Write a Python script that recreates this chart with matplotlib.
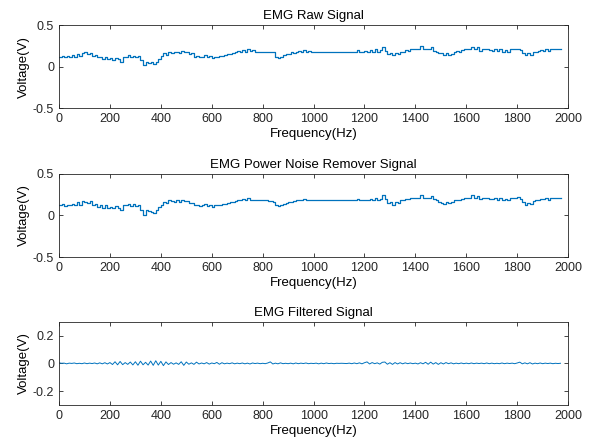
import matplotlib
matplotlib.use("Agg")
import matplotlib.pyplot as plt
import numpy as np

# frequency axis, one sample every 10 Hz
freq = np.arange(0, 1980, 10)

raw = [
    0.12, 0.13, 0.11, 0.13, 0.12, 0.14, 0.12, 0.15, 0.13, 0.16,
    0.17, 0.15, 0.16, 0.13, 0.14, 0.11, 0.12, 0.09, 0.11, 0.09,
    0.10, 0.08, 0.10, 0.09, 0.05, 0.12, 0.11, 0.14, 0.12, 0.13,
    0.11, 0.13, 0.08, 0.02, 0.06, 0.04, 0.05, 0.03, 0.06, 0.09,
    0.13, 0.16, 0.14, 0.18, 0.16, 0.17, 0.18, 0.16, 0.19, 0.17,
    0.18, 0.15, 0.16, 0.12, 0.13, 0.11, 0.12, 0.14, 0.11, 0.13,
    0.10, 0.12, 0.12, 0.13, 0.13, 0.14, 0.15, 0.15, 0.16, 0.17,
    0.19, 0.18, 0.20, 0.18, 0.21, 0.19, 0.20, 0.18, 0.18, 0.18,
    0.18, 0.18, 0.18, 0.17, 0.17, 0.11, 0.10, 0.12, 0.14, 0.15,
    0.15, 0.17, 0.16, 0.18, 0.19, 0.17, 0.20, 0.18, 0.19, 0.17,
    0.18, 0.17, 0.18, 0.18, 0.18, 0.18, 0.18, 0.18, 0.18, 0.18,
    0.18, 0.18, 0.18, 0.18, 0.18, 0.18, 0.18, 0.20, 0.18, 0.18,
    0.19, 0.17, 0.20, 0.18, 0.21, 0.18, 0.20, 0.24, 0.19, 0.15,
    0.16, 0.14, 0.16, 0.15, 0.18, 0.17, 0.20, 0.19, 0.21, 0.21,
    0.21, 0.21, 0.25, 0.21, 0.21, 0.21, 0.23, 0.19, 0.18, 0.16,
    0.16, 0.14, 0.16, 0.14, 0.15, 0.17, 0.19, 0.18, 0.20, 0.21,
    0.21, 0.21, 0.24, 0.21, 0.23, 0.19, 0.21, 0.21, 0.21, 0.20,
    0.19, 0.21, 0.19, 0.21, 0.18, 0.20, 0.18, 0.21, 0.21, 0.21,
    0.21, 0.20, 0.16, 0.14, 0.16, 0.14, 0.17, 0.17, 0.19, 0.20,
    0.19, 0.21, 0.19, 0.21, 0.21, 0.21, 0.21, 0.21,
]

power_removed = [
    0.12, 0.14, 0.11, 0.13, 0.13, 0.14, 0.13, 0.16, 0.13, 0.17,
    0.16, 0.15, 0.17, 0.13, 0.14, 0.10, 0.12, 0.09, 0.12, 0.09,
    0.10, 0.09, 0.11, 0.09, 0.06, 0.12, 0.12, 0.14, 0.11, 0.14,
    0.11, 0.12, 0.07, 0.01, 0.06, 0.05, 0.04, 0.03, 0.07, 0.10,
    0.12, 0.16, 0.15, 0.18, 0.17, 0.16, 0.19, 0.16, 0.18, 0.17,
    0.17, 0.15, 0.15, 0.12, 0.12, 0.11, 0.13, 0.14, 0.11, 0.12,
    0.10, 0.12, 0.13, 0.13, 0.14, 0.14, 0.15, 0.16, 0.16, 0.17,
    0.18, 0.18, 0.20, 0.19, 0.21, 0.19, 0.19, 0.18, 0.18, 0.18,
    0.18, 0.18, 0.17, 0.17, 0.16, 0.12, 0.11, 0.12, 0.14, 0.15,
    0.16, 0.16, 0.17, 0.18, 0.19, 0.18, 0.20, 0.18, 0.19, 0.18,
    0.18, 0.18, 0.18, 0.18, 0.18, 0.18, 0.18, 0.18, 0.18, 0.18,
    0.18, 0.18, 0.18, 0.18, 0.18, 0.18, 0.18, 0.20, 0.18, 0.18,
    0.19, 0.18, 0.20, 0.18, 0.21, 0.19, 0.20, 0.24, 0.20, 0.15,
    0.16, 0.13, 0.16, 0.15, 0.18, 0.18, 0.20, 0.20, 0.21, 0.21,
    0.21, 0.21, 0.25, 0.21, 0.21, 0.21, 0.23, 0.20, 0.18, 0.16,
    0.15, 0.14, 0.16, 0.15, 0.16, 0.18, 0.19, 0.19, 0.20, 0.21,
    0.21, 0.21, 0.24, 0.21, 0.23, 0.20, 0.21, 0.21, 0.21, 0.20,
    0.20, 0.21, 0.19, 0.21, 0.19, 0.20, 0.19, 0.21, 0.21, 0.21,
    0.22, 0.20, 0.16, 0.13, 0.15, 0.14, 0.17, 0.18, 0.19, 0.20,
    0.20, 0.21, 0.19, 0.21, 0.21, 0.21, 0.21, 0.21,
]

filtered = [
    0.004, 0.001, 0.002, -0.003, 0.002, 0.000, 0.003, -0.002, 0.001, -0.002,
    0.003, -0.002, 0.002, -0.001, 0.003, -0.003, 0.004, -0.003, 0.005, -0.004,
    0.006, -0.008, 0.012, -0.010, 0.014, -0.009, 0.006, -0.007, 0.010, -0.011,
    0.012, -0.013, 0.016, -0.010, 0.008, -0.012, 0.017, -0.014, 0.019, -0.012,
    0.015, -0.016, 0.011, -0.008, 0.006, -0.006, 0.004, -0.007, 0.012, -0.014,
    0.010, -0.006, 0.004, -0.007, 0.009, -0.004, 0.003, -0.003, 0.006, -0.005,
    0.003, -0.002, 0.007, -0.006, 0.005, -0.003, 0.002, -0.002, 0.004, -0.003,
    0.002, -0.002, 0.003, -0.003, 0.002, -0.004, 0.003, -0.001, 0.002, -0.002,
    0.001, -0.002, 0.003, 0.011, -0.004, 0.002, -0.003, 0.004, -0.002, 0.001,
    -0.002, 0.002, -0.003, 0.003, -0.002, 0.002, -0.001, 0.003, -0.002, 0.001,
    -0.001, 0.002, -0.003, 0.002, -0.002, 0.003, -0.001, 0.001, -0.002, 0.001,
    0.000, 0.001, 0.000, -0.001, 0.002, -0.002, 0.003, -0.002, 0.004, -0.003,
    0.005, 0.011, -0.004, 0.006, -0.002, 0.004, -0.005, 0.008, 0.010, -0.006,
    0.005, -0.007, 0.006, -0.004, 0.005, -0.003, 0.004, -0.002, 0.003, -0.002,
    0.002, -0.004, 0.005, -0.003, 0.008, -0.006, 0.009, -0.005, 0.006, -0.007,
    0.005, -0.004, 0.006, -0.002, 0.004, -0.003, 0.002, -0.002, 0.003, -0.002,
    0.002, -0.002, 0.003, -0.002, 0.002, -0.001, 0.002, -0.002, 0.003, -0.002,
    0.002, -0.002, 0.001, -0.002, 0.003, -0.002, 0.002, -0.001, 0.002, -0.002,
    0.003, 0.009, -0.003, 0.004, -0.003, 0.005, -0.004, 0.002, -0.002, 0.003,
    -0.002, 0.002, -0.001, 0.002, -0.002, 0.001, -0.001, 0.001,
]

titles = ["EMG Raw Signal", "EMG Power Noise Remover Signal", "EMG Filtered Signal"]
xticks = [0, 200, 400, 600, 800, 1000, 1200, 1400, 1600, 1800, 2000]

plt.rcParams['font.family'] = ['Liberation Sans', 'DejaVu Sans']
plt.rcParams['font.size'] = 9

line_color = '#0072BD'
axis_color = '#262626'

fig = plt.figure(figsize=(5.92, 4.47), dpi=100)
positions = [
    [0.0997, 0.758, 0.86, 0.186],
    [0.0997, 0.425, 0.86, 0.186],
    [0.0997, 0.094, 0.86, 0.186],
]
series = [raw, power_removed, filtered]

for i, (pos, ys, title) in enumerate(zip(positions, series, titles)):
    ax = fig.add_axes(pos)
    if i < 2:
        ax.plot(freq, ys, color=line_color, linewidth=0.9, drawstyle='steps-post')
        ax.set_ylim(-0.5, 0.5)
        ax.set_yticks([-0.5, 0, 0.5])
        ax.set_yticklabels(['-0.5', '0', '0.5'])
    else:
        ax.plot(freq, ys, color=line_color, linewidth=0.7)
        ax.set_ylim(-0.3, 0.3)
        ax.set_yticks([-0.2, 0, 0.2])
        ax.set_yticklabels(['-0.2', '0', '0.2'])
    ax.set_xlim(0, 2000)
    ax.set_xticks(xticks)
    ax.set_title(title, fontsize=9.5, pad=4, color='black')
    ax.set_xlabel('Frequency(Hz)', fontsize=9.5, labelpad=2)
    ax.set_ylabel('Voltage(V)', fontsize=9.5, labelpad=2)
    ax.tick_params(direction='in', top=True, right=True, length=3, width=0.6,
                   colors=axis_color, labelsize=9)
    for sp in ax.spines.values():
        sp.set_linewidth(0.6)
        sp.set_color(axis_color)

fig.savefig('out.png', dpi=100, facecolor='white')
